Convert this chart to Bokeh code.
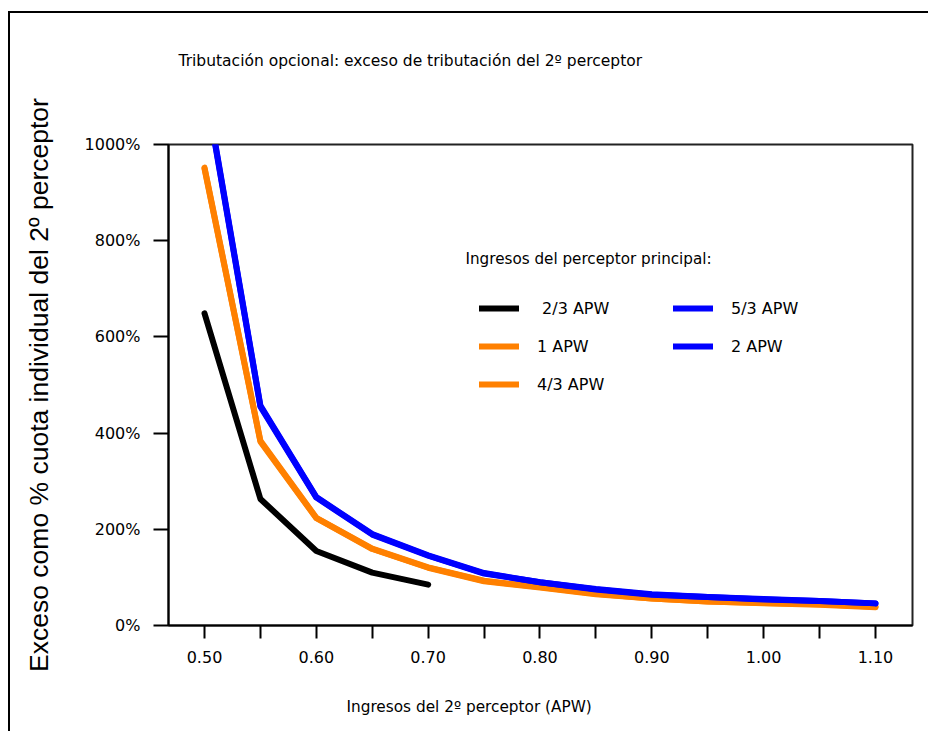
from bokeh.plotting import figure
from bokeh.models import (Range1d, FixedTicker, PrintfTickFormatter, Legend,
                          LegendItem, Label, Title)
from bokeh.embed import file_html
from bokeh.resources import INLINE

# ---- data ----
x_ingresos = [0.50, 0.55, 0.60, 0.65, 0.70, 0.75, 0.80, 0.85, 0.90, 0.95, 1.00, 1.05, 1.10]
x_ingresos_corto = [0.50, 0.55, 0.60, 0.65, 0.70]
exceso_2_3 = [649, 263, 155, 110, 85]
exceso_1 = [952, 384, 224, 160, 121, 93, 80, 66, 56, 50, 47, 44, 39]
exceso_4_3 = [950, 382, 223, 159, 120, 92, 79, 65, 56, 50, 46, 43, 38]
exceso_5_3 = [1128, 455, 266, 189, 145, 108, 90, 75, 64, 59, 54, 51, 46]
exceso_2 = [1132, 457, 267, 190, 146, 109, 90, 76, 65, 59, 55, 51, 46]
series_labels = [" 2/3 APW", "1 APW", "4/3 APW", "5/3 APW", "2 APW"]
y_ticks = [0, 200, 400, 600, 800, 1000]
x_ticks = [0.50, 0.60, 0.70, 0.80, 0.90, 1.00, 1.10]
x_minor_ticks = [0.55, 0.65, 0.75, 0.85, 0.95, 1.05]

title_text = "Tributación opcional: exceso de tributación del 2º perceptor"
x_label = "Ingresos del 2º perceptor (APW)"
y_label = "Exceso como % cuota individual del 2º perceptor"
legend_title = "Ingresos del perceptor principal:"

ORANGE = "#FF8000"
BLUE = "#0000FF"
FONT = "DejaVu Sans"

p = figure(width=920, height=720, output_backend="svg", toolbar_location=None,
           x_range=Range1d(0.4678, 1.1331), y_range=Range1d(0, 1000),
           min_border_left=158, min_border_right=18, min_border_top=131,
           min_border_bottom=108)
p.styles = {"margin-left": "8px", "margin-top": "11px",
            "border-left": "2px solid black", "border-top": "2px solid black"}
p.grid.visible = False
p.background_fill_color = "white"
p.border_fill_color = "white"
p.outline_line_color = "#222222"
p.outline_line_width = 2

# axes
p.xaxis.ticker = FixedTicker(ticks=x_ticks, minor_ticks=x_minor_ticks)
p.xaxis.formatter = PrintfTickFormatter(format="%.2f")
p.yaxis.ticker = FixedTicker(ticks=y_ticks, minor_ticks=[])
p.yaxis.formatter = PrintfTickFormatter(format="%d%%")
for ax in (p.xaxis, p.yaxis):
    ax.axis_line_width = 2
    ax.axis_line_color = "black"
    ax.major_tick_line_width = 2
    ax.major_tick_line_color = "black"
    ax.minor_tick_line_width = 2
    ax.minor_tick_line_color = "black"
    ax.major_tick_in = 0
    ax.minor_tick_in = 0
    ax.major_label_text_font = FONT
    ax.major_label_text_font_size = "16px"
    ax.major_label_text_color = "black"
p.xaxis.major_tick_out = 13
p.xaxis.minor_tick_out = 13
p.xaxis.major_label_standoff = 12
p.yaxis.major_tick_out = 15
p.yaxis.major_label_standoff = 13
p.yaxis.axis_label = y_label
p.yaxis.axis_label_text_font = "Liberation Sans"
p.yaxis.axis_label_text_font_size = "26.5px"
p.yaxis.axis_label_text_font_style = "normal"
p.yaxis.axis_label_text_color = "black"
p.yaxis.axis_label_standoff = 28

# series
lw = 6
r1 = p.line(x_ingresos_corto, exceso_2_3, line_color="black", line_width=lw, line_cap="round", line_join="round")
r2 = p.line(x_ingresos, exceso_1, line_color=ORANGE, line_width=lw, line_cap="round", line_join="round")
r3 = p.line(x_ingresos, exceso_4_3, line_color=ORANGE, line_width=lw, line_cap="round", line_join="round")
r4 = p.line(x_ingresos, exceso_5_3, line_color=BLUE, line_width=lw, line_cap="round", line_join="round")
r5 = p.line(x_ingresos, exceso_2, line_color=BLUE, line_width=lw, line_cap="round", line_join="round")

legend = Legend(items=[LegendItem(label=l, renderers=[r]) for l, r in
                       zip(series_labels, [r1, r2, r3, r4, r5])],
                location=(311, 222), orientation="vertical", nrows=3,
                glyph_width=40, glyph_height=38, label_height=38, label_width=136,
                label_standoff=18, spacing=0, padding=0, margin=0,
                border_line_color=None, background_fill_alpha=0,
                label_text_font=FONT, label_text_font_size="16px",
                label_text_color="black")
p.add_layout(legend, "center")

p.add_layout(Label(x=297, y=367, x_units="screen", y_units="screen", text=legend_title,
                   text_font=FONT, text_font_size="15.2px", text_baseline="middle",
                   text_color="black"))

def text_title(txt, offset, standoff, size):
    return Title(text=txt, align="left", offset=offset, standoff=standoff,
                 vertical_align="bottom", text_font=FONT, text_font_size=size,
                 text_font_style="normal", text_color="black")

# above: spacer box next to the frame, then the chart title
p.add_layout(text_title(" ", 0, 55, "15.5px"), "above")
p.add_layout(text_title(title_text, 10, 0, "15.5px"), "above")
# below: axis, spacer box, then the x-axis title
p.add_layout(text_title(" ", 0, 10, "15.3px"), "below")
p.add_layout(text_title(x_label, 178, 0, "15.3px"), "below")

open("out.html", "w").write(file_html(p, INLINE))
